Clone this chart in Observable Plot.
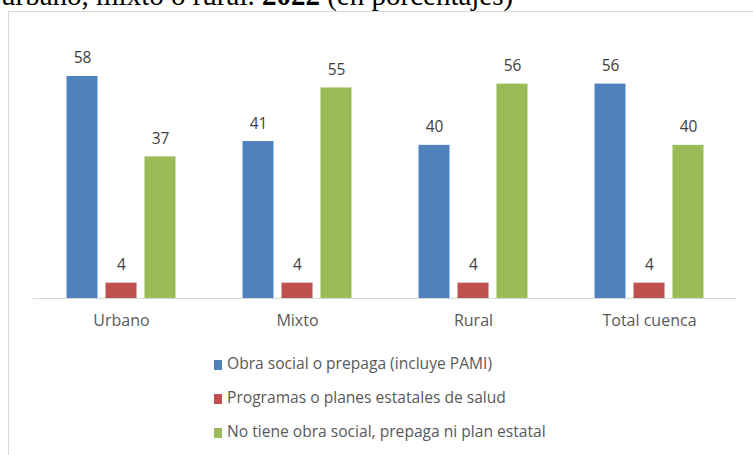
<!DOCTYPE html>
<html>
<head>
<meta charset="utf-8">
<script src="https://cdn.jsdelivr.net/npm/d3@7"></script>
<script src="https://cdn.jsdelivr.net/npm/@observablehq/plot@0.6"></script>
<style>
  html, body { margin: 0; padding: 0; background: #fff; overflow: hidden; }
  body { width: 753px; height: 455px; position: relative; }
  #title { position: absolute; left: 1px; top: -19px; font-family: "Liberation Serif", "Times New Roman", serif; font-size: 29px; color: #000; white-space: nowrap; line-height: 1; }
  #frame { position: absolute; left: 8px; top: 11px; width: 800px; height: 500px; border: 1px solid #d9d9d9; box-sizing: border-box; }
  #chart { position: absolute; left: 0; top: 0; }
  #legend { position: absolute; left: 214px; top: 351px; font-family: "Open Sans", sans-serif; font-size: 15.6px; color: #595959; }
  .item { display: flex; align-items: center; height: 24px; margin-bottom: 10px; white-space: nowrap; }
  .sw { width: 8px; height: 10px; margin-right: 5px; margin-top: 3px; }
</style>
</head>
<body>
<div id="title">urbano, mixto o rural. <b>2022</b> (en porcentajes)</div>
<div id="frame"></div>
<div id="chart"></div>
<div id="legend"></div>
<script>
const categories = ["Urbano", "Mixto", "Rural", "Total cuenca"];
const seriesNames = [
  "Obra social o prepaga (incluye PAMI)",
  "Programas o planes estatales de salud",
  "No tiene obra social, prepaga ni plan estatal"
];
const obraSocial = [58, 41, 40, 56];
const programas = [4, 4, 4, 4];
const noTiene = [37, 55, 56, 40];
const colors = ["#4f81bd", "#c0504d", "#9bbb59"];

const seriesValues = [obraSocial, programas, noTiene];
const data = [];
categories.forEach((c, i) => {
  seriesNames.forEach((s, j) => {
    data.push({category: c, series: s, value: seriesValues[j][i]});
  });
});

const chart = Plot.plot({
  width: 753,
  height: 340,
  marginTop: 30,
  marginBottom: 42,
  marginLeft: 33,
  marginRight: 16,
  style: {fontFamily: "Open Sans, sans-serif", background: "transparent"},
  fx: {domain: categories, padding: 0, round: false, label: null, axis: "bottom", tickSize: 0, tickPadding: 16, fontSize: 16},
  x: {domain: seriesNames, paddingInner: 0.205, paddingOuter: 0.859, round: false, axis: null},
  y: {domain: [0, 70], axis: null},
  color: {domain: seriesNames, range: colors},
  marks: [
    Plot.barY(data, {fx: "category", x: "series", y: "value", fill: "series"}),
    Plot.ruleY([0], {stroke: "#d9d9d9", strokeWidth: 1.2}),
    Plot.text(data, {fx: "category", x: "series", y: "value", text: d => d3.format(".0f")(d.value), lineAnchor: "bottom", dy: -13, fill: "#404040", fontSize: 15.5})
  ]
});
chart.querySelectorAll('[aria-label="fx-axis tick label"] text').forEach(t => { t.setAttribute("fill", "#595959"); t.style.fontSize = "16px"; });
document.getElementById("chart").appendChild(chart);

const legend = document.getElementById("legend");
seriesNames.forEach((s, j) => {
  const item = document.createElement("div");
  item.className = "item";
  const sw = document.createElement("span");
  sw.className = "sw";
  sw.style.background = colors[j];
  const label = document.createElement("span");
  label.textContent = s;
  item.appendChild(sw);
  item.appendChild(label);
  legend.appendChild(item);
});
</script>
</body>
</html>
